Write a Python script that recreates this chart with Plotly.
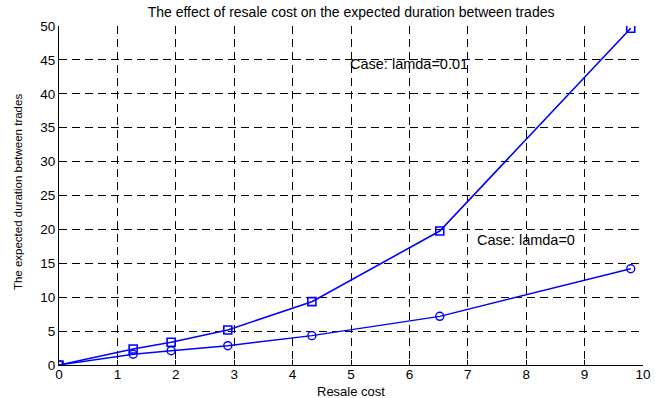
import plotly.graph_objects as go

resale_cost = [0, 1.27, 1.92, 2.89, 4.33, 6.52, 9.79]
duration_lamda_001 = [0, 2.36, 3.35, 5.16, 9.34, 19.76, 49.66]
duration_lamda_0 = [0, 1.58, 2.11, 2.85, 4.33, 7.18, 14.2]
x_ticks = list(range(0, 11))
y_ticks = list(range(0, 51, 5))

font = "Liberation Sans, Arial, sans-serif"
fig = go.Figure()
fig.add_trace(go.Scatter(x=resale_cost, y=duration_lamda_001, mode="lines+markers",
                         line=dict(color="#0000ff", width=1.6),
                         marker=dict(symbol="square-open", size=8, color="#0000ff", line=dict(width=1.6))))
fig.add_trace(go.Scatter(x=resale_cost, y=duration_lamda_0, mode="lines+markers",
                         line=dict(color="#0000ff", width=1.4),
                         marker=dict(symbol="circle-open", size=8, color="#0000ff", line=dict(width=1.4))))

fig.add_annotation(x=6.0, y=44.4, text="Case: lamda=0.01", showarrow=False,
                   font=dict(family=font, size=14.5, color="black"))
fig.add_annotation(x=8.0, y=18.4, text="Case: lamda=0", showarrow=False,
                   font=dict(family=font, size=14.5, color="black"))
fig.add_annotation(xref="paper", yref="paper", x=-0.0702, y=0.51, text="The expected duration between trades",
                   textangle=-90, showarrow=False, xanchor="center", yanchor="middle",
                   font=dict(family=font, size=11.5, color="black"))
fig.add_annotation(xref="paper", yref="paper", x=0.5, y=-0.077, text="Resale cost",
                   showarrow=False, xanchor="center", yanchor="middle",
                   font=dict(family=font, size=13, color="black"))

axis_common = dict(showgrid=True, gridcolor="black", griddash="8px,5px", gridwidth=1,
                   showline=True, linecolor="black", linewidth=1, ticks="inside",
                   ticklen=5, tickcolor="black", zeroline=False, mirror=False, automargin=False,
                   tickfont=dict(family=font, size=13.5, color="black"))
fig.update_xaxes(range=[0, 10], tickvals=x_ticks, ticklabelstandoff=-3, **axis_common)
fig.update_yaxes(range=[0, 50], tickvals=y_ticks, **axis_common)
fig.update_layout(width=655, height=398, showlegend=False,
                  margin=dict(l=59, r=12, t=26, b=33),
                  plot_bgcolor="white", paper_bgcolor="white",
                  title=dict(text="The effect of resale cost on the expected duration between trades",
                             x=0.536, xanchor="center", y=0.97, yanchor="middle",
                             font=dict(family=font, size=14, color="black")))
fig.write_html("out.html")
